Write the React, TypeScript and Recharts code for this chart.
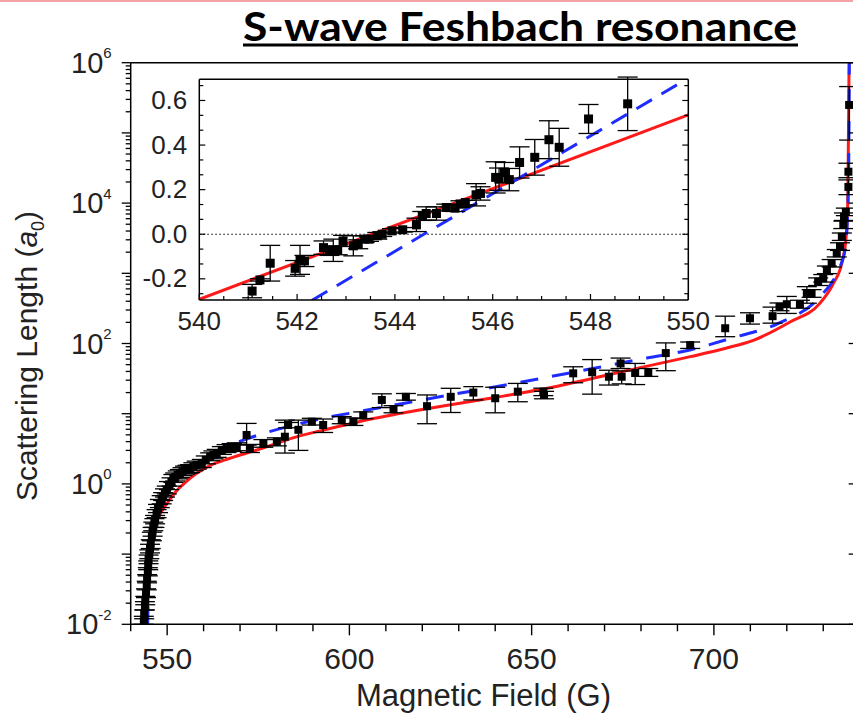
import React from 'react';
import { ComposedChart, Line, Scatter, XAxis, YAxis, ErrorBar, ReferenceLine, CartesianGrid } from 'recharts';

// main panel measurements: [field (G), scattering length (a0), err down, err up]
const mainPoints: [number, number, number, number][] = [
  [543.6, 0.011, 0.001, 0.002], [543.7, 0.014, 0.002, 0.002], [543.9, 0.018, 0.002, 0.003],
  [544.0, 0.022, 0.003, 0.003], [544.2, 0.028, 0.004, 0.004], [544.4, 0.036, 0.005, 0.005],
  [544.5, 0.045, 0.006, 0.006], [544.7, 0.056, 0.007, 0.008], [544.8, 0.07, 0.01, 0.01],
  [544.9, 0.085, 0.012, 0.012], [545.1, 0.1, 0.014, 0.015], [545.3, 0.12, 0.016, 0.018],
  [545.5, 0.14, 0.02, 0.02], [545.8, 0.18, 0.025, 0.025], [546.0, 0.21, 0.03, 0.03],
  [546.2, 0.25, 0.035, 0.035], [546.5, 0.28, 0.04, 0.04], [546.7, 0.31, 0.04, 0.045],
  [547.1, 0.38, 0.05, 0.05], [547.5, 0.45, 0.06, 0.06], [548.0, 0.53, 0.07, 0.07],
  [548.5, 0.6, 0.08, 0.08], [548.9, 0.66, 0.08, 0.09], [549.4, 0.75, 0.1, 0.1],
  [549.9, 0.82, 0.1, 0.11], [550.5, 0.95, 0.12, 0.13], [551.2, 1.07, 0.14, 0.15],
  [551.7, 1.2, 0.15, 0.16], [552.2, 1.26, 0.16, 0.17], [552.9, 1.35, 0.17, 0.18],
  [553.5, 1.41, 0.18, 0.19], [554.2, 1.5, 0.19, 0.2], [554.9, 1.58, 0.2, 0.21],
  [555.6, 1.62, 0.2, 0.22], [556.3, 1.66, 0.21, 0.22], [557.2, 1.76, 0.22, 0.24],
  [558.1, 1.86, 0.23, 0.25], [559.5, 1.96, 0.25, 0.27], [560.6, 2.2, 0.27, 0.3],
  [561.8, 2.44, 0.3, 0.33], [562.7, 2.6, 0.32, 0.35], [563.6, 2.73, 0.34, 0.37],
  [565.0, 3.0, 0.37, 0.4], [566.3, 3.2, 0.4, 0.43], [567.7, 3.3, 0.4, 0.45],
  [569.1, 3.39, 0.42, 0.46], [571.8, 4.97, 1.4, 2.3], [572.7, 3.2, 0.4, 0.45],
  [576.4, 3.78, 0.45, 0.5], [580.1, 3.98, 0.5, 0.55], [582.3, 4.7, 1.95, 3.4],
  [583.2, 6.9, 0.6, 0.6], [586.0, 5.9, 2.9, 2.2], [589.7, 7.7, 0.8, 0.9],
  [592.8, 6.9, 1.5, 1.5], [597.9, 8.1, 0.9, 1.0], [601.1, 7.7, 0.9, 1.0],
  [603.8, 9.5, 1.0, 1.1], [608.9, 15.7, 3.5, 3.5], [612.1, 11.6, 1.3, 1.4],
  [615.5, 17.4, 1.8, 2.0], [621.3, 12.8, 5.6, 5.7], [627.8, 17.4, 7, 5.6],
  [634.0, 20, 4.3, 4.3], [640.0, 16.6, 6.3, 7.2], [646.2, 20.6, 5.8, 6.4],
  [653.2, 20.6, 2.5, 2.5], [653.4, 18.5, 2.2, 2.3], [661.4, 37.6, 10, 9],
  [666.6, 39, 20, 20], [671.2, 33.6, 8, 8], [674.4, 52, 8, 10],
  [674.7, 33.6, 7, 7], [678.4, 38, 12, 14], [682.0, 39, 5, 5],
  [686.8, 73, 32, 29], [693.5, 95, 10, 10], [703.1, 165, 40, 80],
  [709.9, 229, 40, 45], [716.1, 245, 50, 85], [718.0, 333, 40, 45],
  [720.0, 363, 95, 105], [723.6, 363, 45, 50], [725.5, 525, 150, 120],
  [726.8, 515, 60, 70], [728.6, 760, 90, 100], [730.0, 850, 100, 110],
  [731.0, 1120, 130, 150], [732.3, 1390, 160, 180], [733.7, 1930, 220, 250],
  [734.6, 2400, 280, 320], [735.1, 3320, 380, 430], [735.5, 4900, 560, 640],
  [735.7, 6400, 740, 840], [736.2, 7500, 870, 980], [736.9, 17000, 3800, 4400],
  [736.9, 28000, 5000, 9000], [737.1, 250000, 171000, 207000],
];

// fit curves: [field (G), a (a0)]
const redFit: [number, number][] = [
  [543.65, 0.01], [544.0, 0.04], [544.5, 0.08], [545, 0.12], [546, 0.2], [547, 0.29],
  [548, 0.37], [550, 0.53], [552.6, 0.8], [555, 1.05], [558, 1.4], [562, 1.85],
  [567, 2.3], [576, 3.2], [585, 4.6], [595, 6.2], [604, 8.0], [620, 11.5],
  [640, 17], [656, 24], [675, 40], [693.5, 65], [703, 85], [711, 112],
  [721, 204], [729, 370], [732.8, 720], [735.1, 1400], [736.2, 3000],
  [736.7, 9000], [736.9, 80000], [737.05, 600000], [737.1, 1000000],
];
const blueFit: [number, number][] = [
  [544.67, 0.01], [545, 0.053], [546, 0.18], [547, 0.31], [548, 0.44], [550, 0.72],
  [552, 1.0], [555, 1.5], [560, 2.3], [565, 3.2], [570.9, 4.2], [582.8, 6.5],
  [592.8, 8.6], [602.9, 10.8], [620, 15.7], [651.4, 31], [681.6, 62], [693.4, 81],
  [705, 120], [717.7, 194], [729.1, 465], [733.7, 1000], [736, 2200],
  [736.8, 10000], [737.05, 100000], [737.15, 1000000],
];

// inset measurements: [field (G), a (a0), err]
const insetPoints: [number, number, number][] = [
  [541.08, -0.255, 0.03], [541.24, -0.205, 0.005], [541.45, -0.13, 0.08],
  [541.96, -0.153, 0.035], [542.06, -0.115, 0.065], [542.15, -0.12, 0.025],
  [542.54, -0.06, 0.03], [542.66, -0.075, 0.02], [542.74, -0.072, 0.05],
  [542.83, -0.072, 0.02], [542.94, -0.03, 0.025], [543.15, -0.052, 0.045],
  [543.25, -0.045, 0.02], [543.38, -0.022, 0.015], [543.47, -0.022, 0.01],
  [543.64, -0.007, 0.015], [543.74, 0.0, 0.01], [543.94, 0.015, 0.01],
  [544.16, 0.02, 0.01], [544.44, 0.042, 0.03], [544.56, 0.082, 0.02],
  [544.64, 0.093, 0.03], [544.85, 0.093, 0.03], [545.05, 0.12, 0.015],
  [545.23, 0.117, 0.015], [545.34, 0.135, 0.015], [545.44, 0.142, 0.01],
  [545.66, 0.177, 0.05], [545.75, 0.183, 0.03], [546.06, 0.255, 0.07],
  [546.13, 0.247, 0.05], [546.24, 0.277, 0.045], [546.34, 0.245, 0.05],
  [546.55, 0.322, 0.07], [546.86, 0.345, 0.08], [547.15, 0.424, 0.085],
  [547.36, 0.39, 0.085], [547.96, 0.517, 0.065], [548.76, 0.585, 0.12],
];
const insetRed: [number, number][] = [[540, -0.292], [550, 0.535]];
const insetBlue: [number, number][] = [[542.3, -0.297], [550, 0.7]];

const mainXLabels = [550, 600, 650, 700];
const mainYLabelExps = [-2, 0, 2, 4, 6];
const insetXLabels = [540, 542, 544, 546, 548, 550];
const insetYLabels = [-0.2, 0, 0.2, 0.4, 0.6];

const FONT = "'Liberation Sans', Arial, Helvetica, sans-serif";
const TXT = '#222';

// tick positions
const mainXTicks: number[] = [];
for (let b = 540; b <= 740; b += 10) mainXTicks.push(b);
const mainYTicks: number[] = [];
for (let e = -2; e <= 5; e++) for (let m = 1; m <= 9; m++) mainYTicks.push(Number((m * Math.pow(10, e)).toPrecision(3)));
mainYTicks.push(1e6);
const insetXTicks: number[] = [];
for (let i = 0; i <= 20; i++) insetXTicks.push(540 + i * 0.5);
const insetYTicks: number[] = [];
for (let k = -4; k <= 10; k++) insetYTicks.push(Number(((k * 0.2) / 3).toFixed(4)));

const isDecade = (v: number) => Math.abs(Math.log10(v) - Math.round(Math.log10(v))) < 1e-6;
const near = (arr: number[], v: number) => arr.some(a => Math.abs(a - v) < 1e-6);

const mainData = mainPoints.map(([B, a, lo, hi]) => ({ B, a, err: [lo, hi] }));
const redData = redFit.map(([B, a]) => ({ B, a }));
const blueData = blueFit.map(([B, a]) => ({ B, a }));
const insetData = insetPoints.map(([B, a, err]) => ({ B, a, err }));
const insetRedData = insetRed.map(([B, a]) => ({ B, a }));
const insetBlueData = insetBlue.map(([B, a]) => ({ B, a }));

const BottomTick = (p: any) => {
  const v = p.payload.value;
  const major = near(mainXLabels, v);
  return (
    <g>
      <line x1={p.x} x2={p.x} y1={p.y} y2={p.y + (major ? 11 : 7)} stroke="#000" strokeWidth={1.4} />
      {major && (
        <text x={p.x} y={p.y + 45} textAnchor="middle" fontSize={30} fontFamily={FONT} fill={TXT}>{v}</text>
      )}
    </g>
  );
};

const TopTick = (p: any) => {
  const major = p.payload.value % 50 === 0;
  return <line x1={p.x} x2={p.x} y1={p.y} y2={p.y + (major ? 9 : 4)} stroke="#000" strokeWidth={1.4} />;
};

const LeftTick = (p: any) => {
  const v = p.payload.value;
  const dec = isDecade(v);
  const exp = Math.round(Math.log10(v));
  const label = dec && mainYLabelExps.includes(exp);
  return (
    <g>
      <line x1={p.x} x2={p.x - (dec ? 9 : 5)} y1={p.y} y2={p.y} stroke="#000" strokeWidth={1.3} />
      {label && (
        <text x={p.x - 19} y={p.y + 10} textAnchor="end" fontSize={29} fontFamily={FONT} fill={TXT}>
          10<tspan dy={-14.5} fontSize={15}>{exp}</tspan>
        </text>
      )}
    </g>
  );
};

const RightTick = (p: any) => {
  const dec = isDecade(p.payload.value);
  return <line x1={p.x} x2={p.x - (dec ? 11 : 5)} y1={p.y} y2={p.y} stroke="#000" strokeWidth={1.3} />;
};

const InsetBottomTick = (p: any) => {
  const v = p.payload.value;
  const major = near(insetXLabels, v);
  return (
    <g>
      <line x1={p.x} x2={p.x} y1={p.y} y2={p.y - (major ? 6 : 4)} stroke="#000" strokeWidth={1.2} />
      {major && (
        <text x={p.x} y={p.y + 30} textAnchor="middle" fontSize={26} fontFamily={FONT} fill={TXT}>{v}</text>
      )}
    </g>
  );
};

const InsetTopTick = (p: any) => {
  const major = near(insetXLabels, p.payload.value);
  return <line x1={p.x} x2={p.x} y1={p.y} y2={p.y + (major ? 6 : 4)} stroke="#000" strokeWidth={1.2} />;
};

const InsetLeftTick = (p: any) => {
  const v = p.payload.value;
  const major = near(insetYLabels, v);
  return (
    <g>
      <line x1={p.x} x2={p.x + (major ? 6 : 4)} y1={p.y} y2={p.y} stroke="#000" strokeWidth={1.2} />
      {major && (
        <text x={p.x - 12} y={p.y + 8.5} textAnchor="end" fontSize={26} fontFamily={FONT} fill={TXT}>{v.toFixed(1)}</text>
      )}
    </g>
  );
};

const InsetRightTick = (p: any) => {
  const major = near(insetYLabels, p.payload.value);
  return <line x1={p.x} x2={p.x - (major ? 6 : 4)} y1={p.y} y2={p.y} stroke="#000" strokeWidth={1.2} />;
};

const square = (size: number) => (p: any) => (
  <rect x={p.cx - size / 2} y={p.cy - size / 2} width={size} height={size} fill="#000" />
);

const axisLine = { stroke: '#000', strokeWidth: 1.5 };

export default function App() {
  return (
    <div style={{ position: 'absolute', left: 0, top: 0, width: 853, height: 714, overflow: 'hidden', background: '#fff' }}>
      <div style={{ position: 'absolute', left: 0, top: 0, width: 853, height: 2, background: '#f3a3a3' }} />

      {/* main log-scale panel; every axis is 1px thick so its line sits on the plot edge */}
      <div style={{ position: 'absolute', left: 0, top: 0 }}>
        <ComposedChart width={870} height={714} margin={{ top: 61.7, left: 129.7, right: 9.3, bottom: 88.7 }}>
          <XAxis dataKey="B" type="number" domain={[540, 740]} allowDataOverflow ticks={mainXTicks} interval={0}
            height={1} tickSize={0} tickMargin={0} tickLine={false} axisLine={axisLine} tick={<BottomTick />} />
          <XAxis xAxisId="top" orientation="top" type="number" domain={[540, 740]} allowDataOverflow ticks={mainXTicks}
            interval={0} height={1} tickSize={0} tickMargin={0} tickLine={false} axisLine={axisLine} tick={<TopTick />} />
          <YAxis dataKey="a" type="number" scale="log" domain={[0.01, 1e6]} allowDataOverflow ticks={mainYTicks}
            interval={0} width={1} tickSize={0} tickMargin={0} tickLine={false} axisLine={axisLine} tick={<LeftTick />} />
          <YAxis yAxisId="right" orientation="right" type="number" scale="log" domain={[0.01, 1e6]} allowDataOverflow
            ticks={mainYTicks} interval={0} width={1} tickSize={0} tickMargin={0} tickLine={false} axisLine={axisLine}
            tick={<RightTick />} />
          <Line data={redData} dataKey="a" type="monotone" stroke="#ff1a1a" strokeWidth={3} dot={false}
            activeDot={false} isAnimationActive={false} />
          <Line data={blueData} dataKey="a" type="monotone" stroke="#1f2cff" strokeWidth={3} strokeDasharray="18 14"
            dot={false} activeDot={false} isAnimationActive={false} />
          <Scatter data={mainData} dataKey="a" shape={square(8)} isAnimationActive={false}>
            <ErrorBar dataKey="err" direction="y" width={10} stroke="#000" strokeWidth={1.3} isAnimationActive={false} />
          </Scatter>
        </ComposedChart>
      </div>

      {/* inset linear panel, plot box 199.3..688.3 x 79.3..300 */}
      <div style={{ position: 'absolute', left: 130, top: 70 }}>
        <ComposedChart width={580} height={300} margin={{ top: 8.3, left: 68.3, right: 20.7, bottom: 69 }}>
          <CartesianGrid horizontal={false} vertical={false} fill="#fff" />
          <XAxis dataKey="B" type="number" domain={[540, 550]} allowDataOverflow ticks={insetXTicks} interval={0}
            height={1} tickSize={0} tickMargin={0} tickLine={false} axisLine={axisLine} tick={<InsetBottomTick />} />
          <XAxis xAxisId="top" orientation="top" type="number" domain={[540, 550]} allowDataOverflow ticks={insetXTicks}
            interval={0} height={1} tickSize={0} tickMargin={0} tickLine={false} axisLine={axisLine} tick={<InsetTopTick />} />
          <YAxis dataKey="a" type="number" domain={[-0.295, 0.695]} allowDataOverflow ticks={insetYTicks} interval={0}
            width={1} tickSize={0} tickMargin={0} tickLine={false} axisLine={axisLine} tick={<InsetLeftTick />} />
          <YAxis yAxisId="right" orientation="right" type="number" domain={[-0.295, 0.695]} allowDataOverflow
            ticks={insetYTicks} interval={0} width={1} tickSize={0} tickMargin={0} tickLine={false} axisLine={axisLine}
            tick={<InsetRightTick />} />
          <ReferenceLine y={0} stroke="#000" strokeWidth={1.2} strokeDasharray="1.5 2.5" />
          <Line data={insetRedData} dataKey="a" type="linear" stroke="#ff1a1a" strokeWidth={3} dot={false}
            activeDot={false} isAnimationActive={false} />
          <Line data={insetBlueData} dataKey="a" type="linear" stroke="#1f2cff" strokeWidth={3} strokeDasharray="18 11"
            dot={false} activeDot={false} isAnimationActive={false} />
          <Scatter data={insetData} dataKey="a" shape={square(9)} isAnimationActive={false}>
            <ErrorBar dataKey="err" direction="y" width={10} stroke="#000" strokeWidth={1.3} isAnimationActive={false} />
          </Scatter>
        </ComposedChart>
      </div>

      {/* title and axis titles */}
      <svg width={853} height={714} style={{ position: 'absolute', left: 0, top: 0, pointerEvents: 'none' }}>
        <text x={243} y={41} fontFamily="Lato, 'Open Sans', sans-serif" fontWeight={700} fontSize={40}
          textLength={554} lengthAdjust="spacingAndGlyphs" fill="#000">S-wave Feshbach resonance</text>
        <line x1={243} x2={798} y1={45} y2={45} stroke="#000" strokeWidth={3} />
        <text x={483.5} y={706} textAnchor="middle" fontSize={31} fontFamily={FONT} fill={TXT}>Magnetic Field (G)</text>
        <text transform="translate(37 356) rotate(-90)" textAnchor="middle" fontSize={30} fontFamily={FONT} fill={TXT}>
          Scattering Length (<tspan fontStyle="italic">a</tspan><tspan fontSize={18} dy={7}>0</tspan><tspan dy={-7}>)</tspan>
        </text>
      </svg>
    </div>
  );
}
